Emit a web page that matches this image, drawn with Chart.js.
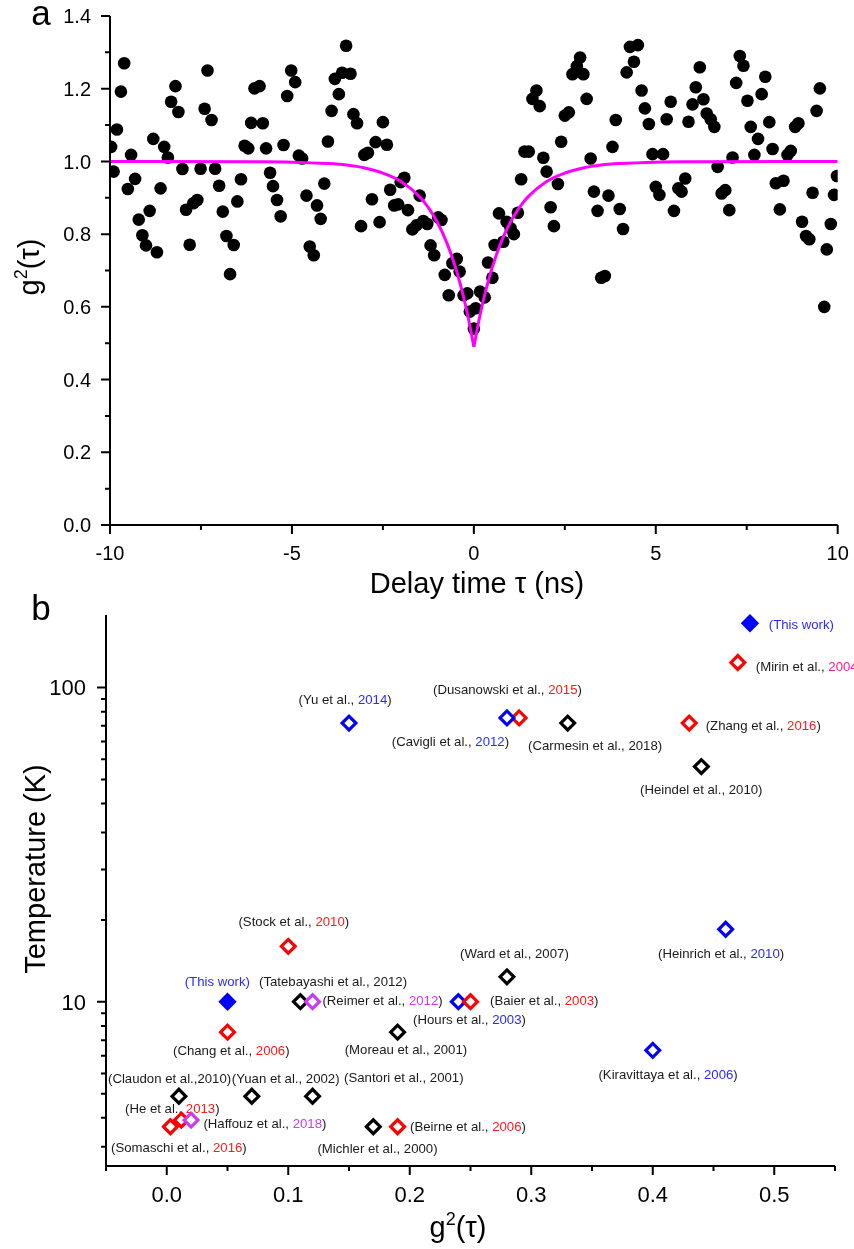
<!DOCTYPE html>
<html>
<head>
<meta charset="utf-8">
<script src="https://cdn.jsdelivr.net/npm/chart.js@4.4.1/dist/chart.umd.min.js"></script>
<style>
  html, body { margin: 0; padding: 0; background: #fff; }
  body { width: 854px; height: 1249px; position: relative; overflow: hidden; }
  canvas { position: absolute; left: 0; }
  #chartA { top: 0; }
  #chartB { top: 590px; }
</style>
</head>
<body>
<canvas id="chartA" width="854" height="600"></canvas>
<canvas id="chartB" width="854" height="659"></canvas>
<script>
// ---------- Panel a: second-order correlation histogram ----------
const delayNs = [
  -9.97, -9.90, -9.81, -9.70, -9.61, -9.51, -9.42, -9.31, -9.21, -9.11,
  -9.01, -8.91, -8.81, -8.71, -8.61, -8.51, -8.41, -8.32, -8.20, -8.12,
  -8.01, -7.91, -7.81, -7.71, -7.60, -7.51, -7.40, -7.32, -7.21, -7.11,
  -7.00, -6.90, -6.80, -6.70, -6.60, -6.50, -6.40, -6.30, -6.20, -6.12,
  -6.03, -5.89, -5.80, -5.71, -5.60, -5.52, -5.41, -5.31, -5.23, -5.13,
  -5.02, -4.91, -4.81, -4.72, -4.60, -4.51, -4.40, -4.31, -4.21, -4.11,
  -4.01, -3.91, -3.82, -3.71, -3.62, -3.51, -3.39, -3.31, -3.21, -3.10,
  -3.01, -2.91, -2.80, -2.70, -2.59, -2.50, -2.39, -2.30, -2.19, -2.08,
  -2.01, -1.91, -1.81, -1.69, -1.58, -1.49, -1.39, -1.28, -1.19, -1.09,
  -0.98, -0.89, -0.80, -0.69, -0.59, -0.47, -0.39, -0.28, -0.18, -0.11,
   0.00,  0.05,  0.17,  0.30,  0.39,  0.51,  0.57,  0.69,  0.81,  0.90,
   1.01,  1.10,  1.21,  1.30,  1.39,  1.51,  1.61,  1.72,  1.81,  1.91,
   2.00,  2.11,  2.20,  2.31,  2.40,  2.50,  2.61,  2.71,  2.83,  2.92,
   3.01,  3.10,  3.21,  3.30,  3.40,  3.50,  3.60,  3.70,  3.81,  3.90,
   4.01,  4.10,  4.20,  4.29,  4.40,  4.51,  4.61,  4.70,  4.81,  4.91,
   5.00,  5.10,  5.20,  5.30,  5.41,  5.50,  5.62,  5.71,  5.81,  5.90,
   6.01,  6.10,  6.21,  6.31,  6.40,  6.51,  6.61,  6.70,  6.81,  6.91,
   7.02,  7.11,  7.21,  7.31,  7.41,  7.52,  7.61,  7.71,  7.81,  7.91,
   8.01,  8.12,  8.21,  8.30,  8.41,  8.51,  8.62,  8.71,  8.83,  8.92,
   9.02,  9.13,  9.22,  9.31,  9.42,  9.51,  9.63,  9.70,  9.81,  9.90,
   9.98
];
const g2Counts = [
  1.040, 0.972, 1.088, 1.192, 1.270, 0.924, 1.018, 0.952, 0.840, 0.797,
  0.769, 0.864, 1.062, 0.750, 0.926, 1.040, 1.011, 1.164, 1.207, 1.136,
  0.979, 0.867, 0.771, 0.885, 0.894, 0.980, 1.145, 1.250, 1.114, 0.980,
  0.933, 0.862, 0.795, 0.690, 0.770, 0.890, 0.951, 1.043, 1.036, 1.106,
  1.201, 1.207, 1.105, 1.036, 0.969, 0.932, 0.894, 0.849, 1.045, 1.180,
  1.250, 1.218, 1.016, 1.008, 0.906, 0.766, 0.742, 0.879, 0.842, 0.939,
  1.055, 1.139, 1.227, 1.185, 1.244, 1.318, 1.241, 1.130, 1.105, 0.822,
  1.018, 1.024, 0.896, 1.053, 0.833, 1.108, 1.046, 0.922, 0.879, 0.882,
  0.943, 0.955, 0.866, 0.813, 0.824, 0.906, 0.836, 0.828, 0.769, 0.742,
  0.846, 0.839, 0.688, 0.632, 0.720, 0.732, 0.697, 0.632, 0.637, 0.587,
  0.540, 0.596, 0.642, 0.626, 0.722, 0.680, 0.770, 0.857, 0.779, 0.834,
  0.816, 0.800, 0.859, 0.951, 1.027, 1.027, 1.172, 1.195, 1.152, 1.010,
  0.972, 0.874, 0.822, 0.938, 1.054, 1.126, 1.135, 1.240, 1.262, 1.286,
  1.240, 1.172, 1.008, 0.917, 0.864, 0.680, 0.685, 0.906, 1.040, 1.114,
  0.869, 0.814, 1.245, 1.315, 1.274, 1.320, 1.195, 1.146, 1.103, 1.020,
  0.930, 0.908, 1.020, 1.116, 1.164, 0.864, 0.926, 0.917, 0.953, 1.109,
  1.157, 1.204, 1.259, 1.171, 1.132, 1.116, 1.095, 0.985, 0.912, 0.921,
  0.866, 1.011, 1.216, 1.290, 1.263, 1.167, 1.095, 1.018, 1.062, 1.185,
  1.233, 1.108, 1.034, 0.940, 0.868, 0.947, 1.018, 1.029, 1.095, 1.105,
  0.834, 0.795, 0.786, 0.914, 1.139, 1.201, 0.600, 0.758, 0.828, 0.908,
  0.960
];
// Fitted antibunching curve
const fitDelayNs = [-10, -6, -5, -4, -3.5, -3, -2.5, -2, -1.5, -1.25, -1, -0.75, -0.5, -0.3, -0.15, 0,
                    0.15, 0.3, 0.5, 0.75, 1, 1.25, 1.5, 2, 2.5, 3, 3.5, 4, 5, 6, 10];
const fitG2 = [1.000, 0.999, 0.998, 0.994, 0.990, 0.982, 0.968, 0.945, 0.904, 0.873, 0.832, 0.778, 0.707, 0.634, 0.568, 0.490,
               0.568, 0.634, 0.707, 0.778, 0.832, 0.873, 0.904, 0.945, 0.968, 0.982, 0.990, 0.994, 0.998, 0.999, 1.000];

const delayTicks = [-10, -5, 0, 5, 10];
const delayTickLabels = ['-10', '-5', '0', '5', '10'];
const delayMinorTicks = [-7.5, -2.5, 2.5, 7.5];
const g2Ticks = [0, 0.2, 0.4, 0.6, 0.8, 1.0, 1.2, 1.4];
const g2TickLabels = ['0.0', '0.2', '0.4', '0.6', '0.8', '1.0', '1.2', '1.4'];
const g2MinorTicks = [0.1, 0.3, 0.5, 0.7, 0.9, 1.1, 1.3];

// ---------- Panel b: g2(0) versus operating temperature ----------
const studyNames = [
  '(This work)', '(This work)', '(Mirin et al., ', '(Dusanowski et al., ', '(Cavigli et al., ',
  '(Carmesin et al., ', '(Yu et al., ', '(Zhang et al., ', '(Heindel et al., ', '(Heinrich et al., ',
  '(Stock et al., ', '(Ward et al., ', '(Tatebayashi et al., ', '(Reimer et al., ', '(Hours et al., ',
  '(Baier et al., ', '(Chang et al., ', '(Moreau et al., ', '(Kiravittaya et al., ', '(Claudon et al.,',
  '(Yuan et al., ', '(Santori et al., ', '(He et al., ', '(Haffouz et al., ', '(Somaschi et al., ',
  '(Michler et al., ', '(Beirne et al., '
];
const studyYears = [
  '', '', '2004', '2015', '2012',
  '2018', '2014', '2016', '2010', '2010',
  '2010', '2007', '2012', '2012', '2003',
  '2003', '2006', '2001', '2006', '2010',
  '2002', '2001', '2013', '2018', '2016',
  '2000', '2006'
];
const studyG2 = [
  0.05, 0.48, 0.47, 0.29, 0.28,
  0.33, 0.15, 0.43, 0.44, 0.46,
  0.10, 0.28, 0.11, 0.12, 0.24,
  0.25, 0.05, 0.19, 0.40, 0.01,
  0.07, 0.12, 0.012, 0.02, 0.003,
  0.17, 0.19
];
const studyTempK = [
  10, 160, 120, 80, 80,
  77, 77, 77, 56, 17,
  15, 12, 10, 10, 10,
  10, 8, 8, 7, 5,
  5, 5, 4.2, 4.2, 4,
  4, 4
];
// marker / year colour group of each study
const studyGroup = [
  'ours', 'ours', 'red', 'red', 'blue',
  'black', 'blue', 'red', 'black', 'blue',
  'red', 'black', 'black', 'violet', 'blue',
  'red', 'red', 'black', 'blue', 'black',
  'black', 'black', 'red', 'violet', 'red',
  'black', 'red'
];
const studyYearGroup = [
  'ours', 'ours', 'pink', 'red', 'blue',
  'black', 'blue', 'red', 'black', 'blue',
  'red', 'black', 'black', 'violet', 'blue',
  'red', 'red', 'black', 'blue', 'black',
  'black', 'black', 'red', 'violet', 'red',
  'black', 'red'
];

const g2AxisTicks = [0, 0.1, 0.2, 0.3, 0.4, 0.5];
const g2AxisTickLabels = ['0.0', '0.1', '0.2', '0.3', '0.4', '0.5'];
const g2AxisMinorTicks = [-0.05, 0.05, 0.15, 0.25, 0.35, 0.45, 0.55];
const tempTicks = [10, 100];
const tempTickLabels = ['10', '100'];
const tempMinorTicks = [3.455, 4.273, 5.091, 5.909, 6.727, 7.545, 8.364, 9.182,
                        18.18, 26.36, 34.55, 42.73, 50.91, 59.09, 67.27, 75.45, 83.64, 91.82];

// ---------- styling ----------
const FONT = '"Liberation Sans", Arial, Helvetica, sans-serif';
const markerColour = { ours: '#0000ff', blue: '#0000ff', red: '#ff0000', black: '#000000', violet: '#c83cf5' };
const textColour = { ours: '#2a2aff', blue: '#2a2aff', red: '#ff1a1a', black: '#1a1a1a', violet: '#c83cf5', pink: '#ff1a8c' };
// label placement relative to its marker, in px: [dx to text start, dy to text centre]
const labelOffset = [
  [-42.8, -19], [18.8, 2.4], [18, 4.9], [-86, -27.8], [-115.2, 24.6],
  [-39.7, 23.7], [-50.5, -23], [16.5, 3.4], [-61.3, 23.5], [-67.6, 25],
  [-49.8, -23.7], [-46.9, -22.5], [-41.4, -19], [9.9, -0.7], [-45.3, 18.6],
  [19.5, 0], [-54.5, 18.9], [-52.9, 18.2], [-54.3, 24.7], [-70.9, -16.9],
  [-20, -16.9], [31.5, -17.9], [-56.3, -11], [12.4, 4.7], [-59.3, 21.7],
  [-55.9, 22.7], [12.5, 0.4]
];

function drawG2Symbol(ctx, cx, baseY, size) {
  const big = size + 'px ' + FONT;
  const small = Math.round(size * 0.62) + 'px ' + FONT;
  ctx.font = big;
  const wg = ctx.measureText('g').width;
  const wp = ctx.measureText('(\u03c4)').width;
  ctx.font = small;
  const w2 = ctx.measureText('2').width;
  let x = cx - (wg + w2 + wp) / 2;
  ctx.textAlign = 'left';
  ctx.textBaseline = 'alphabetic';
  ctx.font = big; ctx.fillText('g', x, baseY); x += wg;
  ctx.font = small; ctx.fillText('2', x, baseY - size * 0.4); x += w2;
  ctx.font = big; ctx.fillText('(\u03c4)', x, baseY);
}

// Draws the L-shaped frame with outward ticks and tick labels
function framePlugin(spec) {
  return {
    id: 'frame' + spec.name,
    afterDraw(chart) {
      const ctx = chart.ctx, a = chart.chartArea;
      const xs = chart.scales.x, ys = chart.scales.y;
      ctx.save();
      ctx.strokeStyle = '#000';
      ctx.lineWidth = 2;
      ctx.lineJoin = 'miter';
      ctx.beginPath();
      ctx.moveTo(a.left, a.top);
      ctx.lineTo(a.left, a.bottom);
      ctx.lineTo(a.right, a.bottom);
      ctx.stroke();

      ctx.beginPath();
      spec.xMajor.forEach(v => { const p = xs.getPixelForValue(v); ctx.moveTo(p, a.bottom); ctx.lineTo(p, a.bottom + spec.majorLen); });
      spec.xMinor.forEach(v => { const p = xs.getPixelForValue(v); ctx.moveTo(p, a.bottom); ctx.lineTo(p, a.bottom + spec.minorLen); });
      spec.yMajor.forEach(v => { const p = ys.getPixelForValue(v); ctx.moveTo(a.left, p); ctx.lineTo(a.left - spec.majorLen, p); });
      spec.yMinor.forEach(v => { const p = ys.getPixelForValue(v); ctx.moveTo(a.left, p); ctx.lineTo(a.left - spec.minorLen, p); });
      ctx.stroke();

      ctx.fillStyle = '#000';
      ctx.font = spec.tickFont + 'px ' + FONT;
      ctx.textBaseline = 'alphabetic';
      ctx.textAlign = 'center';
      spec.xMajor.forEach((v, i) => ctx.fillText(spec.xLabels[i], xs.getPixelForValue(v), a.bottom + spec.xLabelDrop));
      ctx.textAlign = 'right';
      spec.yMajor.forEach((v, i) => ctx.fillText(spec.yLabels[i], a.left - spec.yLabelGap, ys.getPixelForValue(v) + spec.yLabelShift));

      spec.titles(ctx, a);
      ctx.restore();
    }
  };
}

// ---------- chart a ----------
const pointsA = delayNs.map((t, i) => ({ x: t, y: g2Counts[i] }));
const fitPts = fitDelayNs.map((t, i) => ({ x: t, y: fitG2[i] }));
const fitLeft = fitPts.filter(p => p.x <= 0);
const fitRight = fitPts.filter(p => p.x >= 0);

const fitStyle = {
  showLine: true, borderColor: '#ff00ff', borderWidth: 3, pointRadius: 0,
  cubicInterpolationMode: 'monotone', fill: false, clip: 0
};

new Chart(document.getElementById('chartA'), {
  type: 'scatter',
  data: {
    datasets: [
      Object.assign({ data: fitLeft }, fitStyle),
      Object.assign({ data: fitRight }, fitStyle),
      { data: pointsA, pointRadius: 6.3, pointBackgroundColor: '#000', pointBorderWidth: 0, clip: 0 }
    ]
  },
  options: {
    responsive: false, animation: false, devicePixelRatio: 1,
    layout: { padding: { left: 110, right: 16.3, top: 16, bottom: 75 } },
    plugins: { legend: { display: false }, tooltip: { enabled: false } },
    scales: {
      x: { type: 'linear', min: -10, max: 10, bounds: 'data', display: false },
      y: { type: 'linear', min: 0, max: 1.4, bounds: 'data', display: false }
    }
  },
  plugins: [framePlugin({
    name: 'A', xMajor: delayTicks, xLabels: delayTickLabels, xMinor: delayMinorTicks,
    yMajor: g2Ticks, yLabels: g2TickLabels, yMinor: g2MinorTicks,
    majorLen: 9, minorLen: 5, tickFont: 20, xLabelDrop: 34.5, yLabelGap: 19, yLabelShift: 7.2,
    titles(ctx, a) {
      ctx.fillStyle = '#000';
      ctx.font = '29px ' + FONT;
      ctx.textAlign = 'center';
      ctx.fillText('Delay time \u03c4 (ns)', 477, 593);
      ctx.save();
      ctx.translate(39, 267);
      ctx.rotate(-Math.PI / 2);
      drawG2Symbol(ctx, 0, 0, 29);
      ctx.restore();
      ctx.font = '35px ' + FONT;
      ctx.textAlign = 'center';
      ctx.fillText('a', 41, 25);
    }
  })]
});

// ---------- chart b ----------
const pointsB = studyG2.map((g, i) => ({ x: g, y: studyTempK[i] }));

const labelPlugin = {
  id: 'studyLabels',
  beforeDatasetsDraw(chart) {
    const ctx = chart.ctx, xs = chart.scales.x, ys = chart.scales.y;
    ctx.save();
    ctx.font = '13.2px ' + FONT;
    ctx.textAlign = 'left';
    ctx.textBaseline = 'middle';
    studyNames.forEach((name, i) => {
      let x = xs.getPixelForValue(studyG2[i]) + labelOffset[i][0];
      const y = ys.getPixelForValue(studyTempK[i]) + labelOffset[i][1];
      if (studyGroup[i] === 'ours') {
        ctx.fillStyle = textColour.ours;
        ctx.fillText(name, x, y);
        return;
      }
      ctx.fillStyle = textColour.black;
      ctx.fillText(name, x, y); x += ctx.measureText(name).width;
      ctx.fillStyle = textColour[studyYearGroup[i]];
      ctx.fillText(studyYears[i], x, y); x += ctx.measureText(studyYears[i]).width;
      ctx.fillStyle = textColour.black;
      ctx.fillText(')', x, y);
    });
    ctx.restore();
  }
};

new Chart(document.getElementById('chartB'), {
  type: 'scatter',
  data: {
    datasets: [{
      data: pointsB,
      pointStyle: 'rectRot',
      pointRadius: studyGroup.map(g => g === 'ours' ? 9.2 : 6.9),
      pointBorderWidth: studyGroup.map(g => g === 'ours' ? 0 : 3.2),
      pointBorderColor: studyGroup.map(g => markerColour[g]),
      pointBackgroundColor: studyGroup.map(g => g === 'ours' ? markerColour.ours : '#ffffff'),
      clip: false
    }]
  },
  options: {
    responsive: false, animation: false, devicePixelRatio: 1,
    layout: { padding: { left: 106, right: 19, top: 25, bottom: 83 } },
    plugins: { legend: { display: false }, tooltip: { enabled: false } },
    scales: {
      x: { type: 'linear', min: -0.05, max: 0.55, bounds: 'data', display: false },
      y: { type: 'logarithmic', min: 3, max: 170, bounds: 'data', display: false }
    }
  },
  plugins: [labelPlugin, framePlugin({
    name: 'B', xMajor: g2AxisTicks, xLabels: g2AxisTickLabels, xMinor: g2AxisMinorTicks,
    yMajor: tempTicks, yLabels: tempTickLabels, yMinor: tempMinorTicks,
    majorLen: 9, minorLen: 5, tickFont: 22, xLabelDrop: 35.5, yLabelGap: 20, yLabelShift: 8,
    titles(ctx, a) {
      ctx.fillStyle = '#000';
      drawG2Symbol(ctx, 458, 647, 29);
      ctx.save();
      ctx.translate(45, 279);
      ctx.rotate(-Math.PI / 2);
      ctx.font = '29px ' + FONT;
      ctx.textAlign = 'center';
      ctx.textBaseline = 'alphabetic';
      ctx.fillText('Temperature (K)', 0, 0);
      ctx.restore();
      ctx.font = '35px ' + FONT;
      ctx.textAlign = 'center';
      ctx.fillText('b', 41, 30);
    }
  })]
});
</script>
</body>
</html>
